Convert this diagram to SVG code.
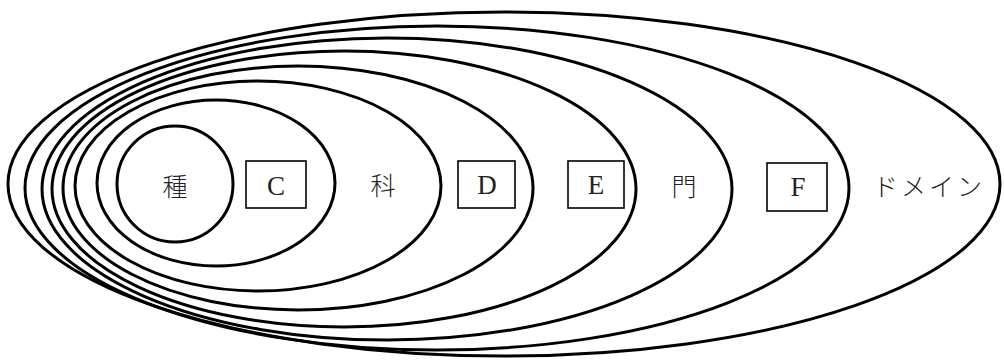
<svg xmlns="http://www.w3.org/2000/svg" width="1004" height="360" viewBox="0 0 1004 360">
<style>
.e{fill:none;stroke:#000;stroke-width:3}
.b{fill:none;stroke:#000;stroke-width:1.6}
.j{font-family:"Noto Sans CJK JP","Noto Sans CJK SC",sans-serif;font-size:25px;font-weight:300;fill:#222;text-anchor:middle;dominant-baseline:central}
.l{font-family:"Liberation Serif",serif;font-size:27px;fill:#222;text-anchor:middle}
</style>
<rect width="1004" height="360" fill="#fff"/>
<g id="domain"><ellipse class="e" cx="504" cy="184" rx="496" ry="172"/><text class="j" x="929" y="185" letter-spacing="3">ドメイン</text></g>
<g id="F"><ellipse class="e" cx="437" cy="188" rx="412" ry="162"/><rect class="b" x="767" y="163" width="60" height="48"/><text class="l" x="798" y="196">F</text></g>
<g id="mon"><ellipse class="e" cx="387" cy="189" rx="345" ry="151"/><text class="j" x="684" y="185">門</text></g>
<g id="E"><ellipse class="e" cx="344" cy="189" rx="292" ry="138"/><rect class="b" x="568" y="161" width="56" height="47"/><text class="l" x="596" y="194">E</text></g>
<g id="D"><ellipse class="e" cx="298" cy="188" rx="235" ry="122"/><rect class="b" x="458" y="161" width="57" height="47"/><text class="l" x="487" y="194">D</text></g>
<g id="ka"><ellipse class="e" cx="258" cy="186" rx="183" ry="105"/><text class="j" x="383" y="184">科</text></g>
<g id="C"><ellipse class="e" cx="216" cy="183" rx="119" ry="83"/><rect class="b" x="246" y="161" width="60" height="47"/><text class="l" x="276" y="195">C</text></g>
<g id="shu"><circle class="e" cx="175" cy="184" r="58"/><text class="j" x="175" y="185">種</text></g>
<g id="connectors"/>
</svg>
